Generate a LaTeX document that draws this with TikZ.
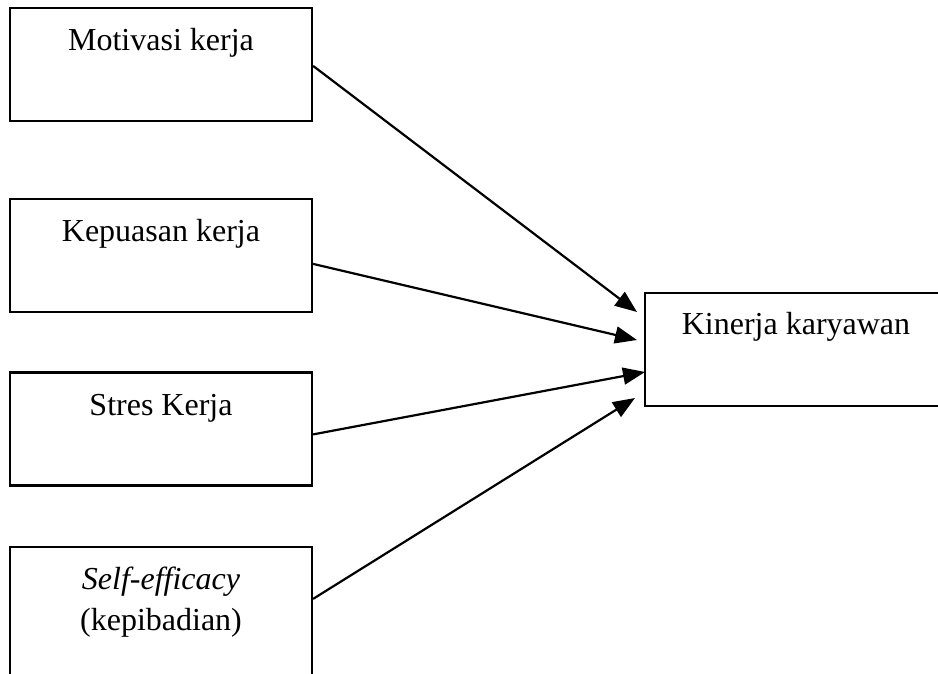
\documentclass[tikz,border=0pt]{standalone}
\usepackage{fontspec}
\setmainfont{Liberation Serif}
\usetikzlibrary{arrows.meta,positioning}

\begin{document}
\begin{tikzpicture}[x=0.5pt,y=-0.5pt,
    varbox/.style={draw, line width=1.1pt, minimum width=151pt, minimum height=56.5pt, inner sep=0pt},
    boxtext/.style={anchor=base, align=center, inner sep=0pt, font=\fontsize{16}{20.5}\selectfont},
    link/.style={line width=1.1pt, -{Triangle[length=11pt,width=8.5pt]}}]
  % page frame, cropped like the scan
  \useasboundingbox (0,0) rectangle (938,674);
  \clip (0,0) rectangle (938,674);
  % independent variables
  \node[varbox] (mot) at (161,64.5) {};
  \node[boxtext] (motT) at ([yshift=-22pt]mot.north) {Motivasi kerja};
  \node[varbox] (kep) at (161,255.5) {};
  \node[boxtext] (kepT) at ([yshift=-22pt]kep.north) {Kepuasan kerja};
  \node[varbox] (str) at (161,429) {};
  \node[boxtext] (strT) at ([yshift=-22pt]str.north) {Stres Kerja};
  \node[varbox, minimum height=70pt] (eff) at (161,617) {};
  \node[boxtext, anchor=north] (effT) at ([yshift=-10.5pt]eff.north) {\textit{Self-efficacy}\\(kepibadian)};
  % dependent variable
  \node[varbox] (kin) at (796,349.5) {};
  \node[boxtext] (kinT) at ([yshift=-21.5pt]kin.north) {Kinerja karyawan};
  % arrow tips
  \coordinate (t1) at (637,312);
  \coordinate (t2) at (637,340);
  \coordinate (t3) at (645,372);
  \coordinate (t4) at (635,398);
  % paths
  \draw[link] ([yshift=-29.5pt]mot.north east) -- (t1);
  \draw[link] ([yshift=-33pt]kep.north east) -- (t2);
  \draw[link] ([yshift=-31.5pt]str.north east) -- (t3);
  \draw[link] ([yshift=-26.5pt]eff.north east) -- (t4);
\end{tikzpicture}
\end{document}
